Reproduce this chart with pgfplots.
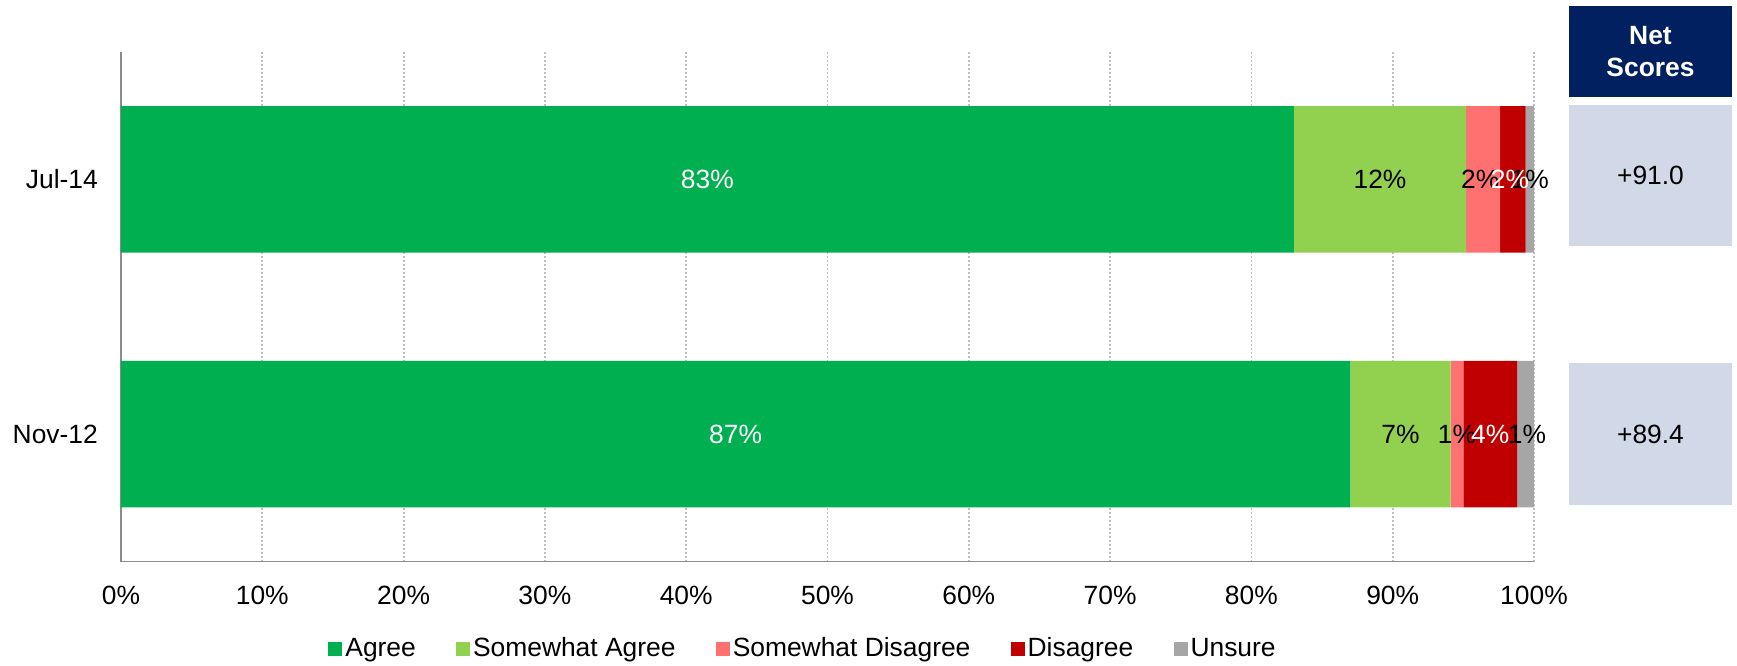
\documentclass[border=0pt]{standalone}
\usepackage{pgfplots}
\pgfplotsset{compat=1.18}
\usepackage{fontspec}
\setmainfont{Liberation Sans}
\definecolor{agree}{HTML}{00B050}
\definecolor{sagree}{HTML}{92D050}
\definecolor{sdis}{HTML}{FF7171}
\definecolor{dis}{HTML}{C00000}
\definecolor{unsure}{HTML}{A6A6A6}
\definecolor{navy}{HTML}{002060}
\definecolor{boxbg}{HTML}{D1D8E7}
\definecolor{axisgray}{HTML}{8C8C8C}
\definecolor{gridgray}{HTML}{BFBFBF}
\pgfplotsset{
  legsq/.style={legend image code/.code={\fill[##1] (0pt,-3.5pt) rectangle (7pt,3.5pt);}},
  common/.style={
    at={(60.5pt,51.7pt)}, anchor=south west,
    scale only axis, width=706.5pt, height=254.8pt,
    xmin=0, xmax=100, ymin=-0.5, ymax=1.5,
  },
  lab/.style={draw=none, mark=none, nodes near coords={\pgfmathprintnumber{\pgfplotspointmeta}\%},
    point meta=explicit, nodes near coords style={anchor=center, text=#1, inner sep=0pt}},
}
\begin{document}
\fontsize{13.2}{15.8}\selectfont
\begin{tikzpicture}
\useasboundingbox (0,0) rectangle (868.5pt,332.5pt);
\begin{axis}[common,
  xbar stacked, bar width=0.575,
  ytick={0,1}, yticklabels={Nov-12,Jul-14},
  xtick={0,10,...,100},
  xticklabels={0\%,10\%,20\%,30\%,40\%,50\%,60\%,70\%,80\%,90\%,100\%},
  axis x line*=bottom, axis y line*=left,
  axis line style={draw=axisgray, line width=0.75pt, -},
  xmajorgrids, grid style={gridgray, line width=0.9pt, dash pattern=on 1pt off 1pt},
  major tick length=0pt,
  xticklabel style={yshift=-7.7pt},
  yticklabel style={xshift=-7pt},
  legend style={at={(0.1465,-0.1715)}, anchor=west, draw=none, fill=none,
    legend columns=5, inner sep=0pt, nodes={inner sep=1.5pt},
    /tikz/every even column/.append style={column sep=18.6pt}},
]
\addplot[fill=agree, draw=none, legsq] coordinates {(83,1) (87,0)};
\addlegendentry{Agree}
\addplot[fill=sagree, draw=none, legsq] coordinates {(12.2,1) (7.1,0)};
\addlegendentry{Somewhat Agree}
\addplot[fill=sdis, draw=none, legsq] coordinates {(2.4,1) (0.9,0)};
\addlegendentry{Somewhat Disagree}
\addplot[fill=dis, draw=none, legsq] coordinates {(1.8,1) (3.8,0)};
\addlegendentry{Disagree}
\addplot[fill=unsure, draw=none, legsq] coordinates {(0.6,1) (1.2,0)};
\addlegendentry{Unsure}
\end{axis}
\begin{axis}[common, hide axis, /pgf/number format/assume math mode=true]
\addplot[lab=white] table[meta=m] {
x y m
41.5 1 83
43.5 0 87
};
\addplot[lab=black] table[meta=m] {
x y m
89.1 1 12
90.55 0 7
};
\addplot[lab=black] table[meta=m] {
x y m
96.2 1 2
94.55 0 1
};
\addplot[lab=black] table[meta=m] {
x y m
99.7 1 1
99.5 0 1
};
\addplot[lab=white] table[meta=m] {
x y m
98.3 1 2
96.9 0 4
};
\end{axis}
\fill[navy] (784.5pt,284pt) rectangle (866pt,329.5pt);
\node[text=white, align=center, font=\bfseries] at (825.25pt,306.75pt) {Net\\Scores};
\fill[boxbg] (784.5pt,209.5pt) rectangle (866pt,280pt);
\node at (825.25pt,244.75pt) {+91.0};
\fill[boxbg] (784.5pt,80pt) rectangle (866pt,151pt);
\node at (825.25pt,115.5pt) {+89.4};
\end{tikzpicture}
\end{document}
